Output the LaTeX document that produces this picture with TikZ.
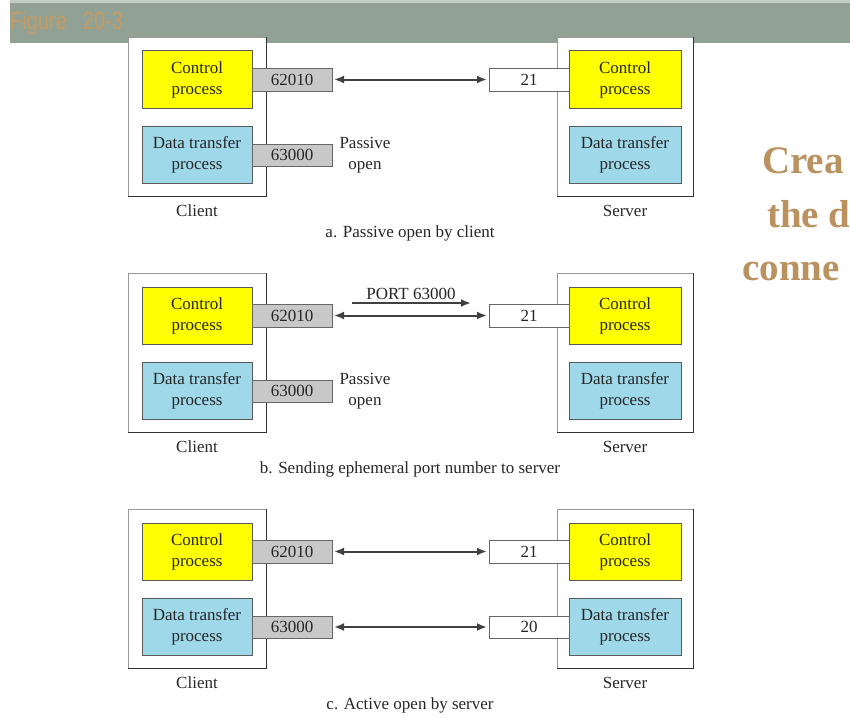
\documentclass[tikz,border=0pt]{standalone}
\usepackage{fontspec}
\setmainfont{Liberation Serif}
\newfontfamily\dserif{Liberation Serif}
\newfontfamily\hdrfont{Liberation Sans}
\usetikzlibrary{arrows.meta}
\definecolor{band}{HTML}{91A295}
\definecolor{bandtop}{HTML}{C4CCC6}
\definecolor{titlecol}{HTML}{C79A62}
\definecolor{sidecol}{HTML}{B99260}
\definecolor{procyellow}{HTML}{FFFF00}
\definecolor{procblue}{HTML}{9ED8E9}
\definecolor{portgray}{HTML}{C8C8C8}
\newcommand{\dfont}{\dserif\fontsize{17}{21}\selectfont}
\begin{document}
\begin{tikzpicture}[x=1pt,y=-1pt,
  outerbox/.style={draw=black!40, fill=white, line width=0.8pt, minimum width=138pt, minimum height=159pt, inner sep=0pt},
  shadowline/.style={draw=black!80, line width=1.4pt},
  proc/.style={draw=black!65, line width=1pt, minimum width=110pt, minimum height=57pt, inner sep=0pt, align=center, font=\dfont, text=black!85},
  ctrlp/.style={proc, fill=procyellow},
  datap/.style={proc, fill=procblue},
  cport/.style={draw=black!60, fill=portgray, line width=1pt, minimum width=80pt, minimum height=23pt, inner sep=0pt, font=\dfont, text=black!85},
  sport/.style={cport, fill=white},
  conn/.style={draw=black!75, line width=2pt, {Latex[length=10pt,width=8pt]}-{Latex[length=10pt,width=8pt]}, shorten <=1.5pt, shorten >=1.5pt},
  oneway/.style={draw=black!75, line width=2pt, -{Latex[length=10pt,width=8pt]}},
  lbl/.style={font=\dfont, inner sep=0pt, text=black!85, align=center}
]
\useasboundingbox (0,0) rectangle (850,717);
\clip (0,0) rectangle (850,717);
% header band
\fill[band] (10,0) rectangle (850,43);
\fill[bandtop] (10,0) rectangle (850,3);
\node[anchor=base west, inner sep=0pt, text=titlecol, font=\hdrfont\fontsize{25}{29}\selectfont] (title) at (10,30) {\scalebox{0.8}[1]{Figure\hspace{20pt}20-3}};
% side text
\begin{scope}[every node/.style={anchor=base west, inner sep=0pt, text=sidecol, font=\dserif\bfseries\fontsize{39}{46}\selectfont}]
\node (s1) at (762,173) {Crea};
\node (s2) at (767,227) {the d};
\node (s3) at (742,280) {conne};
\end{scope}
% panels
\foreach \p/\dy in {a/0,b/236,c/472}{
\begin{scope}[shift={(0,\dy)}]
  \node[outerbox] (client\p) at (197,116.5) {};
  \draw[shadowline] (client\p.north east) -- (client\p.south east) -- (client\p.south west);
  \node[outerbox, minimum width=136pt] (server\p) at (625,116.5) {};
  \draw[shadowline] (server\p.north east) -- (server\p.south east) -- (server\p.south west);
  \node[ctrlp] (cc\p) at (197,79.5) {Control\\process};
  \node[datap] (cd\p) at (197,154.5) {Data transfer\\process};
  \node[ctrlp, minimum width=112pt] (sc\p) at (625,79.5) {Control\\process};
  \node[datap, minimum width=112pt] (sd\p) at (625,154.5) {Data transfer\\process};
  \node[cport] (cp1\p) at (292,79.5) {62010};
  \node[cport, minimum height=22pt] (cp2\p) at (292,155) {63000};
  \node[sport] (sp1\p) at (529,79.5) {21};
  \draw[conn] (cp1\p.east) -- (sp1\p.west);
  \node[lbl] (cl\p) at (197,211) {Client};
  \node[lbl] (sl\p) at (625,211) {Server};
\end{scope}
}
% panel a extras
\node[lbl] (poa) at (365,155) {Passive\\open};
\node[lbl] (capa) at (410,233) {a. Passive open by client};
% panel b extras
\node[lbl] (pob) at (365,391) {Passive\\open};
\node[lbl] (portmsg) at (411,294) {PORT 63000};
\coordinate (pm1) at (352,303);
\coordinate (pm2) at (471,303);
\draw[oneway] (pm1) -- (pm2);
\node[lbl] (capb) at (410,469) {b. Sending ephemeral port number to server};
% panel c extras
\node[sport, minimum height=22pt] (sp2c) at (529,627) {20};
\draw[conn] (cp2c.east) -- (sp2c.west);
\node[lbl] (capc) at (410,705) {c. Active open by server};
\end{tikzpicture}
\end{document}
